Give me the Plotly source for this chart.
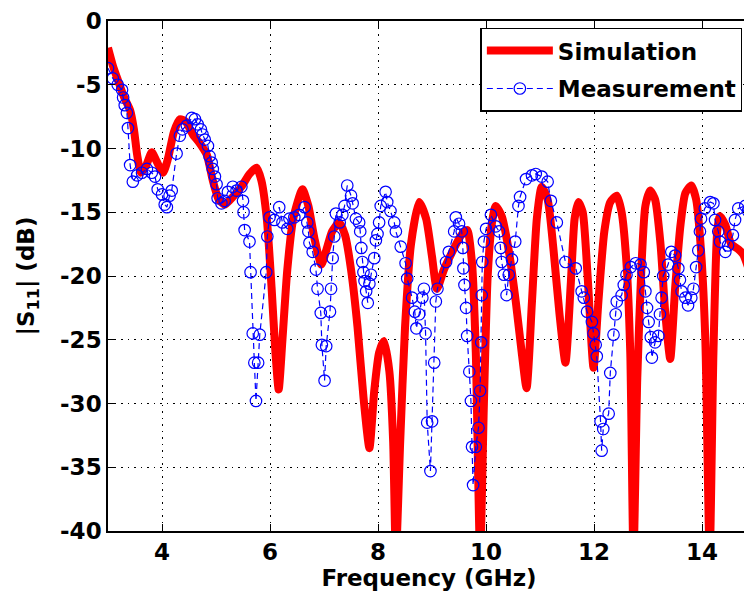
import plotly.graph_objects as go

# Simulation |S11| (dB) vs frequency (GHz)
sim_freq = [3.00, 3.09, 3.18, 3.30, 3.41, 3.48, 3.54, 3.61, 3.70, 3.81, 3.90, 4.02, 4.11, 4.22, 4.33,
            4.44, 4.57, 4.70, 4.83, 4.94, 5.05, 5.16, 5.31, 5.47, 5.62, 5.75, 5.84, 5.94, 6.03, 6.10,
            6.16, 6.23, 6.32, 6.43, 6.60, 6.71, 6.82, 6.95, 7.04, 7.15, 7.28, 7.39, 7.50, 7.62, 7.73,
            7.84, 7.93, 8.02, 8.11, 8.21, 8.28, 8.33, 8.41, 8.50, 8.61, 8.76, 8.89, 9.00, 9.09, 9.22,
            9.41, 9.54, 9.65, 9.74, 9.81, 9.89, 9.96, 10.03, 10.11, 10.18, 10.29, 10.42, 10.55, 10.66,
            10.75, 10.85, 10.94, 11.03, 11.14, 11.25, 11.36, 11.47, 11.57, 11.64, 11.71, 11.79, 11.88,
            11.99, 12.08, 12.19, 12.30, 12.42, 12.51, 12.60, 12.67, 12.73, 12.80, 12.88, 12.95, 13.04,
            13.13, 13.23, 13.32, 13.41, 13.50, 13.60, 13.69, 13.80, 13.89, 13.98, 14.06, 14.14, 14.21,
            14.28, 14.33, 14.43, 14.54, 14.67, 14.76, 14.89]
sim_db = [-2.1, -3.5, -4.6, -6.0, -7.0, -8.5, -10.5, -11.9, -11.4, -10.3, -11.0, -11.9, -10.8, -8.7, -7.7,
          -7.9, -8.9, -9.6, -10.5, -12.5, -14.0, -14.4, -13.8, -13.0, -12.0, -11.5, -12.5, -15.5, -21.0, -26.0,
          -28.9, -25.0, -19.5, -15.5, -13.2, -14.5, -17.0, -19.1, -18.0, -16.5, -15.8, -16.8, -19.5, -24.0, -29.5,
          -33.5, -29.0, -26.0, -25.1, -27.5, -33.0, -42.0, -33.0, -24.0, -17.5, -14.2, -15.5, -18.5, -21.0, -19.5,
          -17.8, -16.8, -16.4, -19.0, -26.0, -42.0, -30.0, -20.0, -15.8, -14.5, -15.3, -18.0, -22.0, -26.0,
          -28.8, -22.0, -15.5, -13.0, -14.0, -18.0, -23.0, -26.8, -20.5, -15.5, -14.2, -15.0, -20.0,
          -27.2, -22.0, -16.5, -14.2, -13.7, -15.0, -19.0, -26.0, -42.0, -28.0, -19.0, -14.5, -13.3,
          -14.0, -17.5, -23.0, -26.5, -21.0, -16.0, -13.5, -12.9, -14.0, -18.0, -25.0, -42.0, -26.0,
          -16.5, -15.3, -16.0, -17.5, -17.9, -18.3, -19.8]

# Measurement |S11| (dB) vs frequency (GHz)
meas_freq = [3.00, 3.09, 3.18, 3.26, 3.28, 3.31, 3.35, 3.37, 3.41, 3.46, 3.54, 3.63, 3.72, 3.81, 3.87,
             3.92, 4.00, 4.05, 4.09, 4.14, 4.18, 4.27, 4.33, 4.38, 4.46, 4.55, 4.61, 4.66, 4.72, 4.75,
             4.79, 4.85, 4.88, 4.92, 4.94, 4.98, 5.01, 5.03, 5.10, 5.16, 5.22, 5.31, 5.38, 5.47, 5.50,
             5.51, 5.53, 5.62, 5.64, 5.68, 5.71, 5.74, 5.78, 5.81, 5.93, 5.95, 5.99, 6.08, 6.17, 6.23,
             6.32, 6.36, 6.45, 6.54, 6.64, 6.69, 6.71, 6.73, 6.79, 6.85, 6.88, 6.94, 6.96, 7.01, 7.04,
             7.11, 7.13, 7.16, 7.19, 7.22, 7.29, 7.34, 7.38, 7.43, 7.50, 7.53, 7.59, 7.65, 7.67, 7.69,
             7.71, 7.73, 7.75, 7.78, 7.81, 7.84, 7.87, 7.93, 7.96, 7.99, 8.02, 8.05, 8.14, 8.17, 8.23,
             8.30, 8.33, 8.42, 8.51, 8.54, 8.63, 8.68, 8.71, 8.76, 8.82, 8.85, 8.88, 8.91, 8.97, 9.00,
             9.04, 9.07, 9.10, 9.26, 9.31, 9.41, 9.44, 9.50, 9.55, 9.57, 9.58, 9.60, 9.63, 9.65, 9.69,
             9.72, 9.74, 9.76, 9.81, 9.86, 9.89, 9.91, 9.92, 9.93, 9.96, 10.00, 10.09, 10.18, 10.24,
             10.27, 10.29, 10.33, 10.38, 10.42, 10.48, 10.54, 10.60, 10.63, 10.74, 10.85, 10.92, 11.03,
             11.14, 11.20, 11.31, 11.47, 11.66, 11.77, 11.81, 11.87, 11.96, 11.99, 12.03, 12.05, 12.12,
             12.14, 12.17, 12.27, 12.30, 12.36, 12.40, 12.42, 12.51, 12.55, 12.60, 12.68, 12.77, 12.86,
             12.92, 12.95, 12.98, 13.01, 13.05, 13.07, 13.13, 13.19, 13.22, 13.25, 13.28, 13.37, 13.43,
             13.50, 13.56, 13.59, 13.62, 13.69, 13.74, 13.80, 13.84, 13.89, 13.93, 13.96, 13.98, 14.05,
             14.15, 14.21, 14.24, 14.30, 14.33, 14.43, 14.48, 14.57, 14.61, 14.67, 14.80, 14.85]
meas_db = [-3.7, -4.5, -5.0, -5.4, -6.0, -6.6, -7.2, -8.4, -11.3, -12.6, -12.1, -11.9, -11.6, -11.9, -12.2,
           -13.2, -13.6, -14.4, -14.6, -13.7, -13.3, -10.4, -9.0, -8.5, -8.2, -7.6, -7.7, -8.1, -8.5, -8.9,
           -9.3, -9.8, -10.6, -11.1, -11.6, -12.2, -12.8, -13.9, -14.3, -14.1, -13.4, -13.0, -13.3, -13.0, -14.1,
           -15.0, -16.4, -17.3, -19.7, -24.5, -26.8, -29.8, -26.8, -24.6, -19.7, -16.9, -15.4, -15.6, -14.6, -15.8,
           -16.3, -15.5, -15.4, -15.2, -14.6, -15.8, -16.5, -17.4, -18.1, -19.5, -21.0, -22.9, -25.4, -28.2, -25.5,
           -22.8, -21.0, -18.6, -16.9, -15.1, -15.8, -15.2, -14.5, -12.9, -13.7, -14.3, -15.5, -15.8, -16.5, -17.8,
           -18.9, -19.7, -20.4, -21.2, -22.1, -20.6, -19.9, -18.6, -17.2, -16.7, -15.8, -14.5, -13.4, -14.2, -14.9,
           -15.8, -16.5, -17.7, -19.0, -20.2, -21.7, -22.8, -24.1, -23.0, -21.7, -21.0, -24.5, -31.5, -35.3, -31.4,
           -26.8, -22.0, -21.0, -18.9, -18.1, -16.5, -15.4, -15.9, -16.5, -17.8, -19.4, -20.7, -22.5, -24.7, -27.5,
           -29.8, -33.4, -36.4, -33.4, -31.9, -29.0, -25.2, -21.5, -18.9, -17.3, -16.3, -15.2, -16.1, -16.5,
           -17.8, -18.9, -19.9, -21.5, -19.9, -18.7, -17.3, -14.5, -13.8, -12.4, -12.1, -12.0, -12.2,
           -12.6, -14.1, -15.8, -18.9, -19.4, -21.2, -21.7, -22.8, -23.6, -24.5, -25.4, -26.3, -31.4,
           -33.7, -32.0, -30.8, -27.6, -24.6, -23.0, -22.0, -21.5, -20.7, -19.9, -19.3, -19.0, -19.1,
           -19.7, -21.2, -22.5, -23.6, -24.8, -26.4, -25.2, -24.7, -23.0, -21.7, -20.0, -19.1, -18.1,
           -18.4, -19.4, -20.3, -21.2, -21.7, -22.3, -21.7, -21.0, -19.3, -18.0, -16.5, -15.5, -14.7,
           -14.2, -14.3, -15.6, -16.5, -17.3, -18.1, -17.6, -16.8, -15.6, -14.7, -14.5, -14.9]

x_ticks = [4, 6, 8, 10, 12, 14]
y_ticks = [0, -5, -10, -15, -20, -25, -30, -35, -40]

FONT = "DejaVu Sans"

fig = go.Figure()
fig.add_trace(go.Scatter(
    x=sim_freq, y=sim_db, mode="lines", name="Simulation", legendgroup="sim",
    line=dict(color="#ff0000", width=8, shape="spline", smoothing=0.6),
))
fig.add_trace(go.Scatter(
    x=meas_freq, y=meas_db, mode="lines+markers", name="Measurement", legendgroup="meas",
    line=dict(color="#0000ff", width=1.2, dash="6px,4px"),
    marker=dict(symbol="circle-open", size=11.5, color="#0000ff", line=dict(width=1.2, color="#0000ff")),
))

axis_common = dict(
    showline=True, linecolor="black", linewidth=1.5, mirror="ticks",
    ticks="inside", ticklen=7, tickwidth=1.2, tickcolor="black",
    showgrid=True, gridcolor="black", gridwidth=1, griddash="1.5px,5px",
    zeroline=False, ticklabeloverflow="allow",
    tickfont=dict(family=FONT, size=23, color="black", weight="bold"),
)

fig.update_xaxes(
    range=[3, 14.887], tickvals=x_ticks, ticktext=[str(v) for v in x_ticks],
    title=dict(text="Frequency (GHz)", font=dict(family=FONT, size=23, color="black", weight="bold"), standoff=6),
    **axis_common,
)
fig.update_yaxes(
    range=[-40, 0], tickvals=y_ticks, ticktext=[str(v) for v in y_ticks],
    title=dict(text="|S<sub>11</sub>| (dB)", font=dict(family=FONT, size=23, color="black", weight="bold"), standoff=19),
    **axis_common,
)

# page body has an 8px default margin, so the figure is sized/offset to compensate
fig.update_layout(
    width=744, height=594,
    margin=dict(l=100, r=0, t=10, b=71),
    paper_bgcolor="white", plot_bgcolor="white",
    showlegend=True,
    legend=dict(
        x=0.580, y=0.987, xanchor="left", yanchor="top",
        bgcolor="white", bordercolor="black", borderwidth=1.5,
        font=dict(family=FONT, size=23, color="black", weight="bold"),
        itemwidth=66, tracegroupgap=5,
    ),
)

fig.write_html("out.html")
